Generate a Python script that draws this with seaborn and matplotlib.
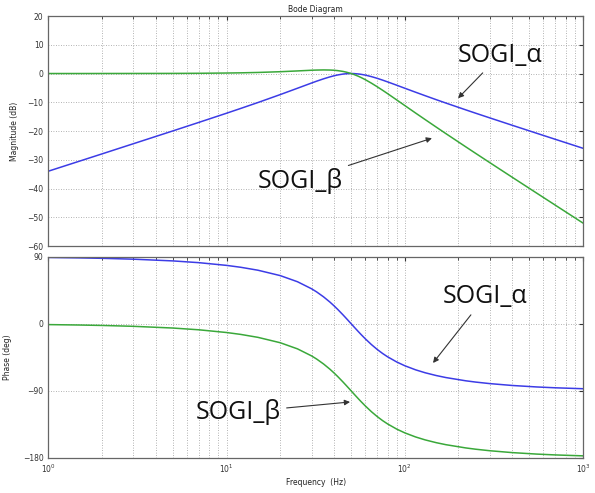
import numpy as np
import pandas as pd
import matplotlib
matplotlib.use("Agg")
import matplotlib.pyplot as plt
import seaborn as sns
from matplotlib.ticker import LogLocator, FixedLocator, NullFormatter

# ---- data ----
freq = [1, 1.5, 2, 3, 5, 7, 10, 12, 15, 20, 25, 30, 32, 35, 38, 40, 42, 45, 47, 50,
        52, 55, 57, 60, 65, 70, 75, 80, 90, 100, 115, 130, 150, 170, 220, 250, 300,
        400, 550, 700, 1000]
mag_alpha = [-33.98, -30.46, -27.96, -24.42, -19.96, -16.99, -13.81, -12.15, -10.09,
             -7.33, -5.12, -3.30, -2.67, -1.85, -1.17, -0.80, -0.50, -0.19, -0.07, 0.00,
             -0.03, -0.16, -0.29, -0.55, -1.08, -1.67, -2.29, -2.90, -4.06, -5.12,
             -6.51, -7.71, -9.09, -10.27, -12.65, -13.81, -15.44, -17.99, -20.79,
             -22.90, -26.01]
mag_beta = [0.00, 0.00, 0.01, 0.02, 0.04, 0.08, 0.17, 0.24, 0.37, 0.63, 0.90, 1.14,
            1.20, 1.25, 1.21, 1.14, 1.01, 0.73, 0.47, 0.00, -0.37, -0.98, -1.43, -2.13,
            -3.36, -4.60, -5.81, -6.98, -9.17, -11.14, -13.75, -16.01, -18.63, -20.90,
            -25.52, -27.79, -31.01, -36.06, -41.62, -45.82, -52.03]
ph_alpha = [88.85, 88.28, 87.71, 86.55, 84.23, 81.87, 78.23, 75.71, 71.75, 64.54,
            56.31, 46.85, 42.70, 36.08, 29.07, 24.23, 19.31, 11.92, 7.06, 0.00, -4.49,
            -10.81, -14.73, -20.14, -27.96, -34.44, -39.81, -44.27, -51.21, -56.31,
            -61.80, -65.71, -69.44, -72.15, -76.52, -78.23, -80.27, -82.76, -84.76,
            -85.89, -87.13]
ph_beta = [-1.15, -1.72, -2.29, -3.45, -5.77, -8.13, -11.77, -14.29, -18.25, -25.46,
           -33.69, -43.15, -47.30, -53.92, -60.93, -65.77, -70.69, -78.08, -82.94,
           -90.00, -94.49, -100.81, -104.73, -110.14, -117.96, -124.44, -129.81,
           -134.27, -141.21, -146.31, -151.80, -155.71, -159.44, -162.15, -166.52,
           -168.23, -170.27, -172.76, -174.76, -175.89, -177.13]
series_names = ["SOGI_α", "SOGI_β"]
mag_ticks = [20, 10, 0, -10, -20, -30, -40, -50, -60]
phase_ticks = [90, 0, -90, -180]

df = pd.DataFrame({
    "f": freq * 2,
    "mag": mag_alpha + mag_beta,
    "phase": ph_alpha + ph_beta,
    "series": [series_names[0]] * len(freq) + [series_names[1]] * len(freq),
})

sns.set_style("white")
plt.rcParams["font.family"] = ["DejaVu Sans"]

palette = {series_names[0]: "#3c3ce6", series_names[1]: "#3aa83a"}

fig = plt.figure(figsize=(5.95, 4.93), dpi=100)
ax1 = fig.add_axes([0.0812, 0.501, 0.8987, 0.4665])
ax2 = fig.add_axes([0.0812, 0.071, 0.8987, 0.4085])

sns.lineplot(data=df, x="f", y="mag", hue="series", palette=palette, legend=False,
             ax=ax1, lw=1.1)
sns.lineplot(data=df, x="f", y="phase", hue="series", palette=palette, legend=False,
             ax=ax2, lw=1.1)

for ax in (ax1, ax2):
    ax.set_xscale("log")
    ax.set_xlim(1, 1000)
    ax.xaxis.set_major_locator(LogLocator(base=10, numticks=10))
    ax.xaxis.set_minor_locator(LogLocator(base=10, subs=np.arange(2, 10), numticks=30))
    ax.xaxis.set_minor_formatter(NullFormatter())
    ax.grid(True, which="both", ls=(0, (1, 2)), color="#9a9a9a", lw=0.6)
    ax.tick_params(which="both", direction="in", top=True, right=True,
                   labelsize=5.5, colors="#333333", length=3)
    ax.tick_params(which="minor", length=2)
    for s in ax.spines.values():
        s.set_color("#666666")
        s.set_linewidth(0.9)
    ax.set_xlabel("")
    ax.set_ylabel("")

ax1.set_ylim(-60, 20)
ax1.yaxis.set_major_locator(FixedLocator(mag_ticks))
ax1.tick_params(labelbottom=False)
ax2.set_ylim(-180, 90)
ax2.yaxis.set_major_locator(FixedLocator(phase_ticks))

ax1.set_title("Bode Diagram", fontsize=5.5, color="#222222", pad=3)
ax1.set_ylabel("Magnitude (dB)", fontsize=5.5, color="#222222", labelpad=6)
ax2.set_ylabel("Phase (deg)", fontsize=5.5, color="#222222", labelpad=8)
ax2.set_xlabel("Frequency  (Hz)", fontsize=5.5, color="#222222", labelpad=2)

afont = dict(fontsize=18, family=["Open Sans", "DejaVu Sans"], color="#111111")
aprops = dict(arrowstyle="-|>", color="#333333", lw=0.8, mutation_scale=8,
              shrinkA=2, shrinkB=0)

ax1.annotate(series_names[0], xy=(199, -8.6), xytext=(342, 6.4), ha="center",
             va="center", arrowprops=aprops, **afont)
ax1.annotate(series_names[1], xy=(142, -22.5), xytext=(25.8, -37.5), ha="center",
             va="center", arrowprops=aprops, **afont)
ax2.annotate(series_names[0], xy=(144, -52.6), xytext=(282, 36), ha="center",
             va="center", arrowprops=aprops, **afont)
ax2.annotate(series_names[1], xy=(49.3, -104.9), xytext=(11.6, -119), ha="center",
             va="center", arrowprops=aprops, **afont)

fig.savefig("out.png", dpi=100)
